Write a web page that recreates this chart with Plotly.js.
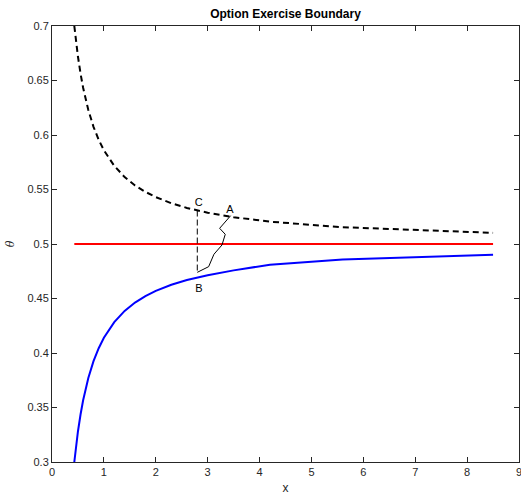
<!DOCTYPE html>
<html>
<head>
<meta charset="utf-8">
<script src="https://cdn.plot.ly/plotly-3.0.1.min.js"></script>
<style>html,body{margin:0;padding:0;background:#fff;}#chart{width:521px;height:499px;}</style>
</head>
<body>
<div id="chart"></div>
<script>
// Lower boundary (blue, solid)
const lowerX = [0.43, 0.45, 0.5, 0.55, 0.6, 0.7, 0.8, 0.9, 1.0, 1.2, 1.4, 1.6, 1.8, 2.0, 2.3, 2.6, 3.0, 3.5, 4.2, 5.6, 8.5];
const lowerY = [0.300, 0.309, 0.328, 0.3436, 0.3567, 0.3771, 0.3925, 0.4044, 0.414, 0.4283, 0.4386, 0.4463, 0.4522, 0.457, 0.4626, 0.4669, 0.4713, 0.4758, 0.481, 0.4858, 0.4901];
// Upper boundary (black, dashed)
const upperX = [0.43, 0.45, 0.5, 0.55, 0.6, 0.7, 0.8, 0.9, 1.0, 1.2, 1.4, 1.6, 1.8, 2.0, 2.3, 2.6, 3.0, 3.5, 4.2, 5.6, 8.5];
const upperY = [0.700, 0.6911, 0.672, 0.6564, 0.6433, 0.6229, 0.6075, 0.5956, 0.586, 0.5717, 0.5614, 0.5537, 0.5478, 0.543, 0.5374, 0.5331, 0.5287, 0.5246, 0.5205, 0.5154, 0.5102];
// Middle line (red)
const midX = [0.43, 8.5];
const midY = [0.5, 0.5];
// Vertical dashed segment from C down to B
const cbX = [2.8, 2.8];
const cbY = [0.5307, 0.474];
// Sample path from A to B
const pathX = [3.443, 3.231, 3.339, 3.276, 3.121, 3.069, 3.019, 2.800];
const pathY = [0.5260, 0.5144, 0.5089, 0.4991, 0.4906, 0.4838, 0.4792, 0.4740];
// Point labels
const labelText = ["C", "A", "B"];
const labelX = [2.83, 3.43, 2.83];
const labelY = [0.5375, 0.531, 0.4585];

const traces = [
  {x: upperX, y: upperY, mode: 'lines', line: {color: '#000000', width: 2, dash: '6px,4px'}, hoverinfo: 'skip'},
  {x: midX, y: midY, mode: 'lines', line: {color: '#ff0000', width: 2}, hoverinfo: 'skip'},
  {x: lowerX, y: lowerY, mode: 'lines', line: {color: '#0000ff', width: 2}, hoverinfo: 'skip'},
  {x: cbX, y: cbY, mode: 'lines', line: {color: '#000000', width: 1, dash: '6px,3px'}, hoverinfo: 'skip'},
  {x: pathX, y: pathY, mode: 'lines', line: {color: '#000000', width: 1}, hoverinfo: 'skip'},
  {x: labelX, y: labelY, mode: 'text', text: labelText, textposition: 'middle center',
   textfont: {family: 'Liberation Sans, Arial, sans-serif', size: 11, color: '#000000'}, hoverinfo: 'skip'}
];

const axisCommon = {
  showline: true, mirror: 'ticks', linecolor: '#262626', linewidth: 1,
  ticks: 'inside', ticklen: 5, tickcolor: '#262626', tickwidth: 1,
  showgrid: false, zeroline: false, ticklabeloverflow: 'allow',
  tickfont: {family: 'Liberation Sans, Arial, sans-serif', size: 11, color: '#262626'}
};

const layout = {
  width: 521, height: 499,
  margin: {l: 52, r: 2, t: 26, b: 37},
  paper_bgcolor: '#ffffff', plot_bgcolor: '#ffffff',
  showlegend: false,
  title: {text: '<b>Option Exercise Boundary</b>', x: 0.548, xanchor: 'center', y: 0.972, yanchor: 'middle',
          font: {family: 'Liberation Sans, Arial, sans-serif', size: 12, color: '#000000'}},
  xaxis: Object.assign({}, axisCommon, {
    range: [0, 9], tickvals: [0,1,2,3,4,5,6,7,8,9],
    title: {text: 'x', standoff: 6, font: {family: 'Liberation Sans, Arial, sans-serif', size: 12, color: '#262626'}}
  }),
  yaxis: Object.assign({}, axisCommon, {
    range: [0.3, 0.7], tickvals: [0.3,0.35,0.4,0.45,0.5,0.55,0.6,0.65,0.7],
    ticktext: ['0.3','0.35','0.4','0.45','0.5','0.55','0.6','0.65','0.7'],
    title: {text: '<i>θ</i>', standoff: 10, font: {family: 'DejaVu Serif, serif', size: 11, color: '#262626'}}
  })
};

Plotly.newPlot('chart', traces, layout, {staticPlot: true, displayModeBar: false});
</script>
</body>
</html>
